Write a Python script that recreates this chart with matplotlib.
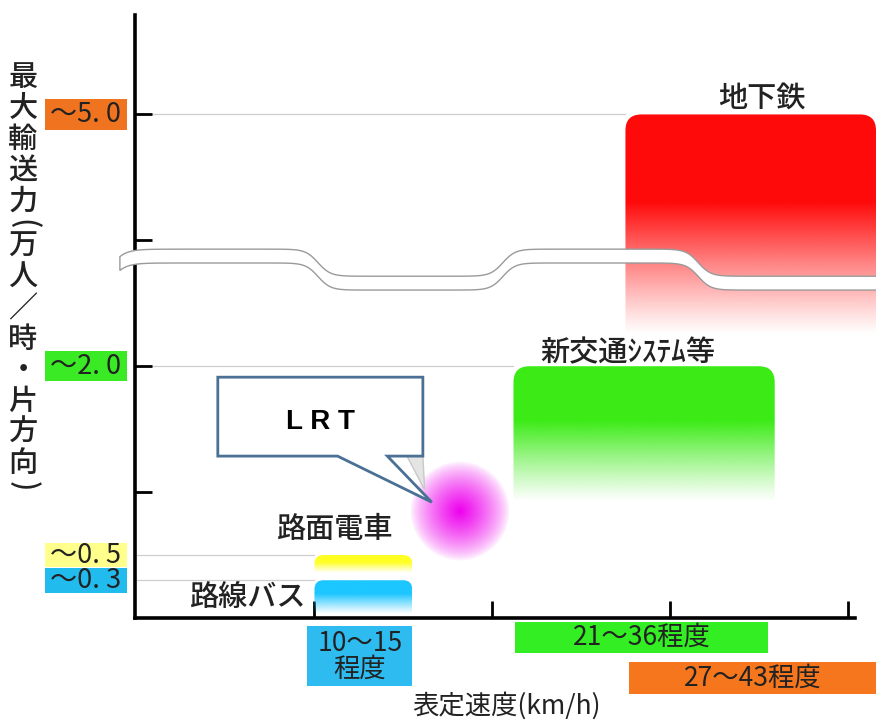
import numpy as np
import matplotlib
matplotlib.use("Agg")
import matplotlib.pyplot as plt
from matplotlib.path import Path
from matplotlib.patches import PathPatch, Polygon, Rectangle
from matplotlib.colors import to_rgb

plt.rcParams['font.family'] = ['Noto Sans CJK JP', 'DejaVu Sans']

# 交通機関ごとの表定速度(km/h)と最大輸送力(万人/時・片方向)
MODES = ["路線バス", "路面電車", "新交通ｼｽﾃﾑ等", "地下鉄"]
SPEED_LO = [10.0, 10.0, 21.2, 27.5]
SPEED_HI = [15.5, 15.5, 35.9, 41.6]
CAPACITY = [0.3, 0.5, 2.0, 5.0]
FADE_TO = [0.03, 0.36, 0.92, 2.37]      # capacity where gradient reaches white
COLORS = ["#1cc6ff", "#ffff22", "#3ceb16", "#ff0a0a"]

LRT_SPEED = 18.2
LRT_CAP = 0.85

CAP_LABELS = ["～5. 0", "～2. 0", "～0. 5", "～0. 3"]
CAP_LABEL_VALUES = [5.0, 2.0, 0.5, 0.3]
CAP_LABEL_COLORS = ["#f07420", "#3aea24", "#ffff8c", "#22bbee"]

SPEED_LABELS = ["10～15\n程度", "21～36程度", "27～43程度"]
SPEED_BOX_LO = [9.6, 21.3, 27.7]
SPEED_BOX_HI = [15.5, 35.5, 41.6]
SPEED_BOX_COLORS = ["#2ebcf0", "#33ee22", "#f5761c"]

X_TICKS = [10, 20, 30, 40]
Y_TICKS = [1, 2, 3, 4]


def disp(v):
    # broken axis: linear up to 2.0, compressed above
    return v if v <= 2 else 2 + (v - 2) * 2 / 3


def top_rounded(x0, x1, y0, y1, rx, ry):
    verts = [(x0, y0), (x0, y1 - ry), (x0, y1), (x0 + rx, y1),
             (x1 - rx, y1), (x1, y1), (x1, y1 - ry), (x1, y0), (x0, y0)]
    codes = [Path.MOVETO, Path.LINETO, Path.CURVE3, Path.CURVE3,
             Path.LINETO, Path.CURVE3, Path.CURVE3, Path.LINETO, Path.CLOSEPOLY]
    return Path(verts, codes)


fig = plt.figure(figsize=(8.76, 7.2), dpi=100)
ax = fig.add_axes([135 / 876, 102 / 720, 741 / 876, 603 / 720])
ax.set_xlim(-0.1, 41.6)
ax.set_ylim(0, 4.79)

# gradient bars
for i in range(len(MODES)):
    x0, x1 = SPEED_LO[i], SPEED_HI[i]
    ytop = disp(CAPACITY[i])
    ybot = disp(FADE_TO[i])
    n = 200
    t = np.linspace(1, 0, n)  # top -> bottom
    alpha = np.clip(t / 0.6, 0, 1) ** 1.1
    img = np.zeros((n, 1, 4))
    img[:, 0, :3] = to_rgb(COLORS[i])
    img[:, 0, 3] = alpha
    rpx = 16 if i >= 2 else 9
    path = top_rounded(x0, x1, ybot, ytop, rpx / 17.77, rpx / 126)
    patch = PathPatch(path, transform=ax.transData, facecolor='none', edgecolor='none')
    ax.add_patch(patch)
    im = ax.imshow(img, extent=(x0, x1, ybot, ytop), aspect='auto',
                   interpolation='bilinear', zorder=2)
    im.set_clip_path(patch)
    # reference line to the axis
    ax.plot([0, x0], [disp(CAPACITY[i])] * 2, color='#cfcfcf', lw=0.9, zorder=1)

# mode labels
ax.text((SPEED_LO[3] + SPEED_HI[3]) / 2 + 0.6, disp(CAPACITY[3]) + 0.13, MODES[3],
        ha='center', va='center', fontsize=21, color='#222222', fontweight='medium')
ax.text((SPEED_LO[2] + SPEED_HI[2]) / 2 - 0.9, disp(CAPACITY[2]) + 0.11, MODES[2],
        ha='center', va='center', fontsize=21, color='#222222', fontweight='medium')
ax.text(SPEED_LO[1] + 1.1, disp(CAPACITY[1]) + 0.2, MODES[1],
        ha='center', va='center', fontsize=21, color='#222222', fontweight='medium')
ax.text(SPEED_LO[0] - 0.5, disp(CAPACITY[0]) - 0.14, MODES[0],
        ha='right', va='center', fontsize=21, color='#222222', fontweight='medium')

# LRT soft blob
n = 201
g = np.linspace(-1, 1, n)
gx, gy = np.meshgrid(g, g)
r = np.sqrt(gx ** 2 + gy ** 2)
blob = np.zeros((n, n, 4))
blob[..., :3] = to_rgb("#ee00ee")
blob[..., 3] = np.clip(1 - r, 0, 1) ** 0.75
bx, by = 50 / 17.77, 50 / 126
ax.imshow(blob, extent=(LRT_SPEED - bx, LRT_SPEED + bx, disp(LRT_CAP) - by, disp(LRT_CAP) + by),
          aspect='auto', interpolation='bilinear', zorder=3)

# callout
tip = (LRT_SPEED - 1.6, disp(LRT_CAP) + 0.07)
bx0, bx1, by0, by1 = 4.56, 16.1, 1.286, 1.913
shadow = Polygon([(15.2, by0), (16.1, by0), (16.2, 1.02)], closed=True,
                 facecolor='#e4e4e4', edgecolor='#c8c8c8', lw=1, zorder=3.5)
ax.add_patch(shadow)
callout = Polygon([(bx0, by0), (bx0, by1), (bx1, by1), (bx1, by0), (14.1, by0), tip, (11.3, by0)],
                  closed=True, facecolor='white', edgecolor='#4a7096', lw=2, zorder=4)
ax.add_patch(callout)
ax.text((bx0 + bx1) / 2, (by0 + by1) / 2 - 0.04, "L R T", ha='center', va='center',
        fontsize=20, fontweight='bold', family=['Liberation Sans', 'DejaVu Sans'],
        color='black', zorder=5)

# axis break wave
xs = np.linspace(-0.95, 41.7, 600)


def step(x, x0, w=0.7):
    return 0.5 * (1 + np.tanh((x - x0) / w))


yc = 2.875 - 0.215 * (step(xs, 10.2) - step(xs, 20.6) + step(xs, 31.6))
yc = yc - 0.06 * np.exp(-(xs + 0.95) / 0.5)   # left tip curls down
half = 0.055
wave = np.concatenate([np.column_stack([xs, yc + half]),
                       np.column_stack([xs[::-1], (yc - half)[::-1]])])
ax.add_patch(Polygon(wave, closed=True, facecolor='white', edgecolor='#9a9a9a',
                     lw=1.0, zorder=6, clip_on=False))

# axes styling
for s in ['top', 'right']:
    ax.spines[s].set_visible(False)
ax.spines['left'].set_linewidth(2.6)
ax.spines['bottom'].set_linewidth(2.6)
ax.spines['bottom'].set_bounds(-0.1, 40.4)
ax.set_xticks(X_TICKS)
ax.set_yticks(Y_TICKS)
ax.set_xticklabels([])
ax.set_yticklabels([])
ax.tick_params(direction='in', length=12, width=2, color='black')

# capacity labels on y axis (coloured boxes)
ytr = ax.get_yaxis_transform()
box_x0, box_x1 = -0.1215, -0.0108
for lab, v, c in zip(CAP_LABELS, CAP_LABEL_VALUES, CAP_LABEL_COLORS):
    h = 0.24 if v >= 2 else 0.195
    ax.add_patch(Rectangle((box_x0, disp(v) - h / 2), box_x1 - box_x0, h, transform=ytr,
                           facecolor=c, edgecolor='none', clip_on=False))
    ax.text((box_x0 + box_x1) / 2, disp(v), lab, transform=ytr, ha='center', va='center',
            fontsize=19.5, color='#222222', clip_on=False)

# speed range boxes under the axis
xtr = ax.get_xaxis_transform()
box_y = [(-0.1128, -0.0133), (-0.058, -0.0066), (-0.126, -0.073)]
for lab, x0, x1, c, (y0, y1) in zip(SPEED_LABELS, SPEED_BOX_LO, SPEED_BOX_HI,
                                     SPEED_BOX_COLORS, box_y):
    ax.add_patch(Rectangle((x0, y0), x1 - x0, y1 - y0, transform=xtr,
                           facecolor=c, edgecolor='none', clip_on=False))
    ax.text((x0 + x1) / 2, (y0 + y1) / 2, lab, transform=xtr, ha='center', va='center',
            fontsize=19, color='#222222', linespacing=0.95, clip_on=False)

# axis titles
fig.text(506 / 876, 1 - 706 / 720, "表定速度(km/h)", ha='center', va='center',
         fontsize=19, color='#222222')

ylab = ["最", "大", "輸", "送", "力", "(", "万", "人", "／", "時", "・", "片", "方", "向", ")"]
ypos = 62
for ch in ylab:
    paren = ch in "()"
    h = 14 if paren else 31
    fig.text(23 / 876, 1 - (ypos + h / 2) / 720, ch, ha='center', va='center',
             fontsize=21, color='#222222', fontweight='medium',
             rotation=-90 if paren else 0)
    ypos += h

fig.savefig("out.png", dpi=100)
